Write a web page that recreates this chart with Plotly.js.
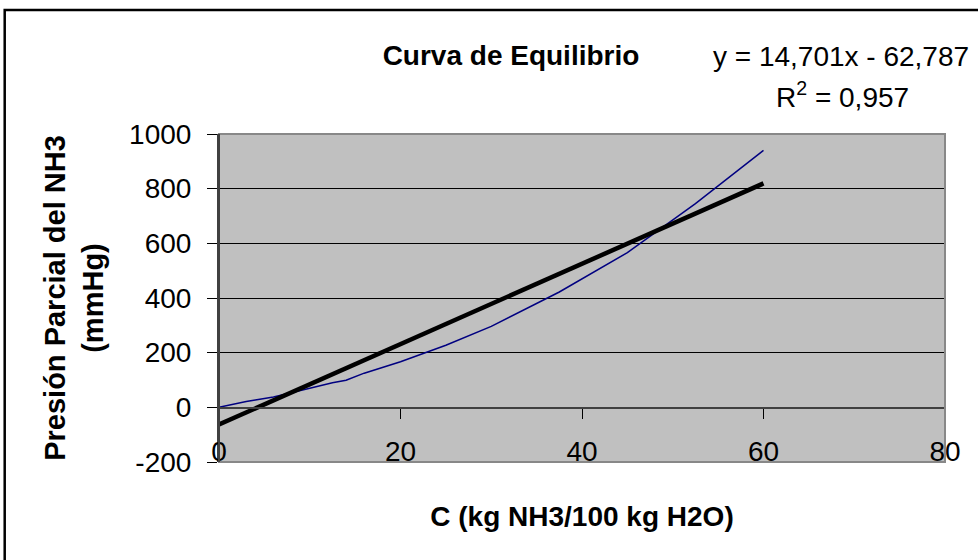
<!DOCTYPE html>
<html>
<head>
<meta charset="utf-8">
<script src="https://cdn.plot.ly/plotly-3.0.1.min.js"></script>
<style>html,body{margin:0;padding:0;background:#fff;}#chart{width:978px;height:560px;}</style>
</head>
<body>
<div id="chart"></div>
<script>
// Equilibrium data: C (kg NH3/100 kg H2O) vs partial pressure of NH3 (mmHg)
const concC = [0, 2, 3, 4, 5, 6, 7.5, 10, 12.5, 14, 16, 20, 25, 30, 37.5, 45, 52.5, 60];
const pressNH3 = [0, 15, 21, 27, 33, 38, 50, 70, 90, 99, 125, 167, 227, 296, 422, 566, 745, 940];

// Linear trendline end points (y = 14,701x - 62,787)
const trendX = [0, 60];
const trendY = [-62.787, 819.273];

const xTicks = [0, 20, 40, 60, 80];
const yTicks = [-200, 0, 200, 400, 600, 800, 1000];

const titleText = "Curva de Equilibrio";
const eqText = "y = 14,701x - 62,787";
const r2Text = "R<sup>2</sup> = 0,957";
const xTitle = "C (kg NH3/100 kg H2O)";
const yTitle = "Presión Parcial del NH3<br>(mmHg)";

const FONT = "Liberation Sans, Arial, Helvetica, sans-serif";

const traces = [
  {
    x: concC, y: pressNH3, type: "scatter", mode: "lines",
    line: {color: "#000080", width: 1.5},
    hoverinfo: "x+y", name: "Equilibrio"
  },
  {
    x: trendX, y: trendY, type: "scatter", mode: "lines",
    line: {color: "#000000", width: 4.5},
    hoverinfo: "x+y", name: "Lineal"
  }
];

const layout = {
  width: 978, height: 560,
  margin: {l: 219, r: 33, t: 134, b: 98, pad: 0},
  paper_bgcolor: "#ffffff",
  plot_bgcolor: "#c0c0c0",
  showlegend: false,
  font: {family: FONT, size: 28, color: "#000"},
  title: {
    text: "<b>" + titleText + "</b>",
    font: {family: FONT, size: 28, color: "#000"},
    x: 511 / 978, xref: "container", xanchor: "center",
    y: 1 - 55 / 560, yref: "container", yanchor: "middle"
  },
  xaxis: {
    range: [0, 80],
    tickvals: xTicks, ticktext: xTicks.map(String),
    anchor: "free", position: 1 / 6,
    showgrid: false, zeroline: false,
    showline: true, linecolor: "#404040", linewidth: 1.5,
    ticks: "outside", ticklen: 10, tickcolor: "#000", tickwidth: 1,
    ticklabelstandoff: 9,
    tickfont: {family: FONT, size: 28, color: "#000"},
    title: {text: "<b>" + xTitle + "</b>", font: {family: FONT, size: 28, color: "#000"}, standoff: 40},
    fixedrange: true
  },
  yaxis: {
    range: [-200, 1000],
    tickvals: yTicks, ticktext: yTicks.map(String),
    showgrid: true, gridcolor: "#000000", gridwidth: 1,
    zeroline: false,
    showline: true, linecolor: "#404040", linewidth: 2,
    ticks: "outside", ticklen: 10, tickcolor: "#000", tickwidth: 1,
    ticklabelstandoff: 10,
    tickfont: {family: FONT, size: 28, color: "#000"},
    title: {text: "<b>" + yTitle + "</b>", font: {family: FONT, size: 29, color: "#000"}, standoff: 17},
    automargin: false,
    fixedrange: true
  },
  shapes: [
    {type: "rect", xref: "paper", yref: "paper", x0: 0, x1: 1, y0: 0, y1: 1,
     line: {color: "#888888", width: 2}, fillcolor: "rgba(0,0,0,0)", layer: "above"},
    {type: "line", xref: "paper", yref: "paper", x0: 0, x1: 0, y0: 0, y1: 1,
     line: {color: "#404040", width: 2}, layer: "above"},
    {type: "rect", xref: "paper", yref: "paper",
     x0: (5 - 219) / 725, x1: 1.2, y0: (462 - 600) / 328, y1: (462 - 10) / 328,
     line: {color: "#000000", width: 2.5}, fillcolor: "rgba(0,0,0,0)", layer: "above"}
  ],
  annotations: [
    {text: eqText, xref: "paper", yref: "paper",
     x: (970 - 219) / 725, xanchor: "right", y: (462 - 57) / 328, yanchor: "middle",
     showarrow: false, font: {family: FONT, size: 28, color: "#000"}},
    {text: r2Text, xref: "paper", yref: "paper",
     x: (910 - 219) / 725, xanchor: "right", y: (462 - 95) / 328, yanchor: "middle",
     showarrow: false, font: {family: FONT, size: 28, color: "#000"}}
  ]
};

Plotly.newPlot("chart", traces, layout, {displayModeBar: false, staticPlot: true});
</script>
</body>
</html>
